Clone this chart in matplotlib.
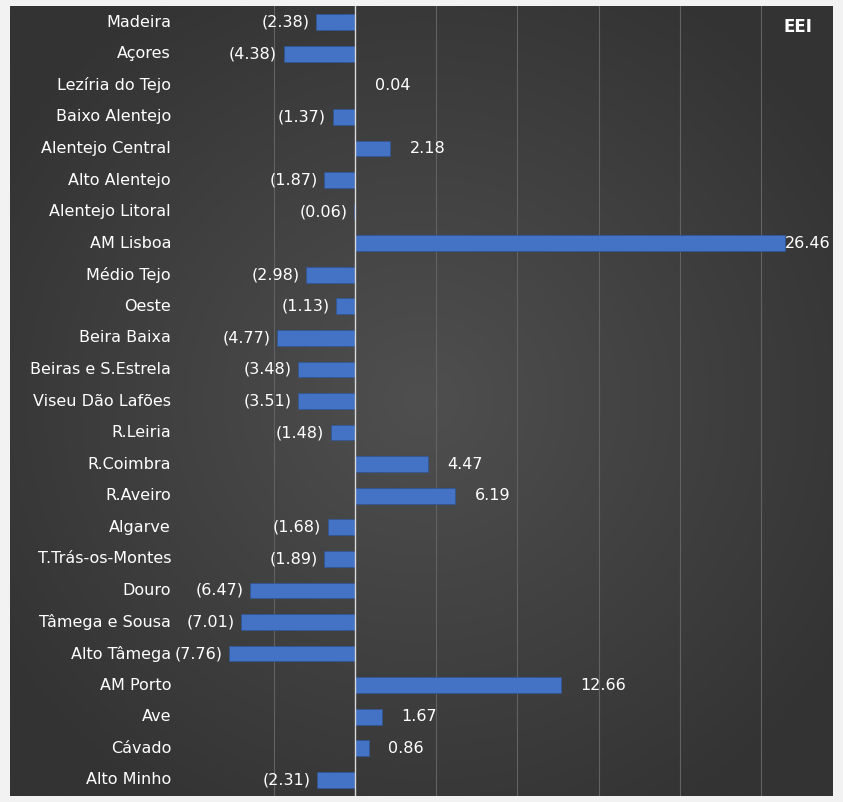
import numpy as np
import matplotlib
matplotlib.use("Agg")
import matplotlib.pyplot as plt

regions = ["Madeira","Açores","Lezíria do Tejo","Baixo Alentejo","Alentejo Central","Alto Alentejo",
           "Alentejo Litoral","AM Lisboa","Médio Tejo","Oeste","Beira Baixa","Beiras e S.Estrela",
           "Viseu Dão Lafões","R.Leiria","R.Coimbra","R.Aveiro","Algarve","T.Trás-os-Montes","Douro",
           "Tâmega e Sousa","Alto Tâmega","AM Porto","Ave","Cávado","Alto Minho"]
values = [-2.38,-4.38,0.04,-1.37,2.18,-1.87,-0.06,26.46,-2.98,-1.13,-4.77,-3.48,-3.51,-1.48,4.47,6.19,
          -1.68,-1.89,-6.47,-7.01,-7.76,12.66,1.67,0.86,-2.31]

fig = plt.figure(figsize=(8.43,8.02), dpi=100)
fig.patch.set_facecolor("#f2f2f2")
ax = fig.add_axes([0.012,0.008,0.976,0.984])
xmin, xmax = -21.2, 29.4
n = len(regions)
ymin, ymax = n-0.5, -0.5
yy, xx = np.mgrid[-1:1:400j, -1:1:400j]
r = np.sqrt(xx**2+yy**2)
g = np.clip(0.31 - 0.09*r, 0.2, 0.4)
ax.imshow(np.dstack([g,g,g]), extent=[xmin,xmax,ymin,ymax], aspect="auto", zorder=0)
ax.set_xlim(xmin,xmax); ax.set_ylim(ymin,ymax)
for gx in [-5,5,10,15,20,25]:
    ax.axvline(gx, color="#626262", lw=0.8, zorder=1)
ax.axvline(0, color="#d9d9d9", lw=1, zorder=3)
y = np.arange(n)
ax.barh(y, values, height=0.5, color="#4472c4", edgecolor="#2f5597", lw=0.5, zorder=2)
for i,(lab,v) in enumerate(zip(regions,values)):
    ax.text(-11.3, i, lab, ha="right", va="center", color="white", fontsize=11.5, zorder=4)
    if v < 0:
        ax.text(v-0.4, i, f"({abs(v):.2f})", ha="right", va="center", color="white", fontsize=11.5, zorder=4)
    else:
        ax.text(v+1.2 if v < 20 else v, i, f"{v:.2f}", ha="left", va="center", color="white", fontsize=11.5, zorder=4)
ax.text(0.975, 0.985, "EEI", transform=ax.transAxes, ha="right", va="top", color="white",
        fontsize=12, fontweight="bold", zorder=4)
ax.set_xticks([]); ax.set_yticks([])
for s in ax.spines.values():
    s.set_visible(False)
fig.savefig("out.png", dpi=100)
